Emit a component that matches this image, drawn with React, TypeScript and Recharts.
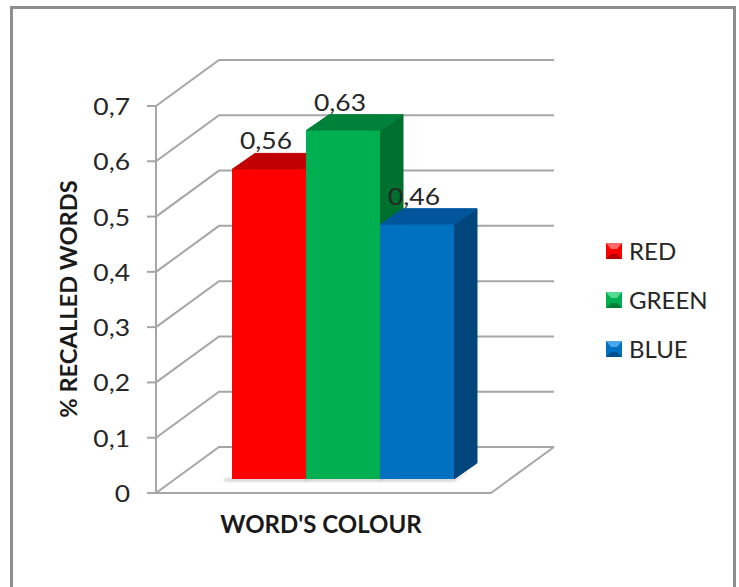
import React from 'react';
import { Bar, BarChart, CartesianGrid, Label, LabelList, Legend, XAxis, YAxis } from 'recharts';

const categories = ["WORD'S COLOUR"];
const seriesNames = ['RED', 'GREEN', 'BLUE'];
const redValues = [0.56];
const greenValues = [0.63];
const blueValues = [0.46];
const yTicks = [0, 0.1, 0.2, 0.3, 0.4, 0.5, 0.6, 0.7];

const rows = categories.map((category, i) => ({
  category,
  RED: redValues[i],
  GREEN: greenValues[i],
  BLUE: blueValues[i],
}));

// front, top and side faces, then the legend key highlight and lowlight
const palette: Record<string, string[]> = {
  RED: ['#ff0000', '#c00000', '#a80000', '#ff6a6a', '#b80000'],
  GREEN: ['#00b050', '#00813a', '#00702f', '#55d98f', '#007f39'],
  BLUE: ['#0070c0', '#00559b', '#00467c', '#4aa8ea', '#00508f'],
};

const FONT = 'Lato, "Open Sans", sans-serif';
const WALL = '#a6a6a6';
const INK = '#262626';
const BAR_DX = 23;
const BAR_DY = 16;

// Floor and back wall offsets relative to the plane the bars stand on
const FRONT_DX = -19;
const FRONT_DY = 14;
const BACK_DX = 44;
const BACK_DY = -32;

// Number labels use a wider setting than the font's own proportions
const WIDEN = 1.15;

const fmt = (v: number) => String(v).replace('.', ',');

const WallLine = (props: any) => {
  const { x1, x2, y1, y, height, index } = props;
  const isFloor = Math.abs(y1 - (y + height)) < 0.5;
  const isTop = Math.abs(y1 - y) < 0.5;
  const step = height / (yTicks.length - 1);
  const fx = x1 + FRONT_DX;
  const fy = y1 + FRONT_DY;
  const bx = x1 + BACK_DX;
  const by = y1 + BACK_DY;
  const rx = x2 + BACK_DX;
  return (
    <g key={`wall-${index}`} fill="none" stroke={WALL} strokeWidth={2}>
      <polyline points={`${fx},${fy} ${bx},${by} ${rx},${by}`} />
      {isTop ? null : <line x1={fx} y1={fy} x2={fx} y2={fy - step} />}
      {isFloor ? (
        <polyline points={`${fx},${fy} ${x2 + FRONT_DX},${fy} ${rx},${by}`} />
      ) : null}
    </g>
  );
};

const YTick = (props: any) => {
  const { y, payload } = props;
  const fy = y + FRONT_DY;
  return (
    <g>
      <line x1={147} y1={fy} x2={156} y2={fy} stroke={WALL} strokeWidth={2} />
      <text
        transform={`translate(130,${fy + 9}) scale(${WIDEN},1)`}
        textAnchor="end"
        fontFamily={FONT}
        fontSize={23}
        fill={INK}
      >
        {fmt(payload.value)}
      </text>
    </g>
  );
};

// Extruded column: soft floor shadow, then side, top and front faces
const makeColumn = (name: string) => (props: any) => {
  const { x, y, width, height } = props;
  const [front, top, side] = palette[name];
  const base = y + height;
  const right = x + width;
  const bleed = name === 'RED' ? 8 : 0;
  return (
    <g strokeLinejoin="round">
      <polygon
        points={`${x - bleed},${base} ${right},${base} ${right + BAR_DX + 6},${base - BAR_DY} ${right + BAR_DX},${base - BAR_DY + 3} ${right},${base + 2} ${x - bleed},${base + 2}`}
        fill="#8c8c8c"
        opacity={0.6}
        filter="url(#floorShadow)"
      />
      <polygon
        points={`${right},${y} ${right + BAR_DX},${y - BAR_DY} ${right + BAR_DX},${base - BAR_DY} ${right},${base}`}
        fill={side}
        stroke={side}
      />
      <polygon
        points={`${x},${y} ${x + BAR_DX},${y - BAR_DY} ${right + BAR_DX},${y - BAR_DY} ${right},${y}`}
        fill={top}
        stroke={top}
      />
      <rect x={x} y={y} width={width} height={height} fill={front} />
    </g>
  );
};

const ValueLabel = (props: any) => {
  const { x, y, width, value } = props;
  return (
    <text
      transform={`translate(${x + width / 2 - 3},${y - 20}) scale(${WIDEN},1)`}
      textAnchor="middle"
      fontFamily={FONT}
      fontSize={23}
      fill={INK}
    >
      {fmt(value)}
    </text>
  );
};

const LegendKey = ({ name }: { name: string }) => {
  const [front, , , light, dark] = palette[name];
  return (
    <svg width={16} height={16} style={{ display: 'block', flex: 'none' }}>
      <rect width={16} height={16} fill={front} />
      <polygon points="0,0 16,0 11,6 5,6" fill={light} />
      <polygon points="0,16 16,16 11,11 5,11" fill={dark} />
    </svg>
  );
};

const LegendList = (props: any) => (
  <div>
    {props.payload.map((entry: any) => (
      <div
        key={entry.value}
        style={{ display: 'flex', alignItems: 'center', height: 49, gap: 7 }}
      >
        <LegendKey name={entry.value} />
        <span style={{ fontFamily: FONT, fontSize: 24, color: INK, lineHeight: 1 }}>
          {entry.value}
        </span>
      </div>
    ))}
  </div>
);

const App: React.FC = () => (
  <div style={{ position: 'absolute', left: 0, top: 0, width: 739, height: 587, overflow: 'hidden', background: '#fff' }}>
    {/* Chart border runs past the bottom edge of the page */}
    <div
      style={{
        position: 'absolute',
        left: 10,
        top: 6,
        width: 720,
        height: 640,
        border: '3px solid #8e8e8e',
        boxSizing: 'content-box',
      }}
    />
    <div style={{ position: 'absolute', left: 0, top: 0 }}>
      <BarChart
        width={739}
        height={587}
        data={rows}
        barSize={74}
        barGap={0}
        margin={{ top: 92, right: 229, bottom: 48, left: 75 }}
      >
        <defs>
          <filter id="floorShadow" x="-20%" y="-100%" width="140%" height="300%">
            <feGaussianBlur stdDeviation="1.5" />
          </filter>
        </defs>
        <CartesianGrid vertical={false} horizontal={WallLine} syncWithTicks />
        <XAxis dataKey="category" tick={false} axisLine={false} tickLine={false} height={60}>
          <Label
            content={() => (
              <text x={321} y={533} textAnchor="middle" fontFamily={FONT} fontSize={24} fontWeight={700} fill="#1a1a1a">
                {categories[0]}
              </text>
            )}
          />
        </XAxis>
        <YAxis
          type="number"
          domain={[0, 0.7]}
          ticks={yTicks}
          width={100}
          axisLine={false}
          tickLine={false}
          tick={YTick}
          interval={0}
        >
          <Label
            content={() => (
              <text
                transform="translate(77,299) rotate(-90)"
                textAnchor="middle"
                fontFamily={FONT}
                fontSize={23.7}
                fontWeight={700}
                fill="#1a1a1a"
              >
                % RECALLED WORDS
              </text>
            )}
          />
        </YAxis>
        <Legend
          layout="vertical"
          align="center"
          verticalAlign="middle"
          itemSorter={null}
          content={LegendList}
          wrapperStyle={{ left: 606, top: 226, width: 125, bottom: 'auto', right: 'auto' }}
        />
        {seriesNames.map(name => (
          <Bar key={name} dataKey={name} name={name} fill={palette[name][0]} shape={makeColumn(name)} isAnimationActive={false}>
            <LabelList dataKey={name} content={ValueLabel} />
          </Bar>
        ))}
      </BarChart>
    </div>
  </div>
);

export default App;
